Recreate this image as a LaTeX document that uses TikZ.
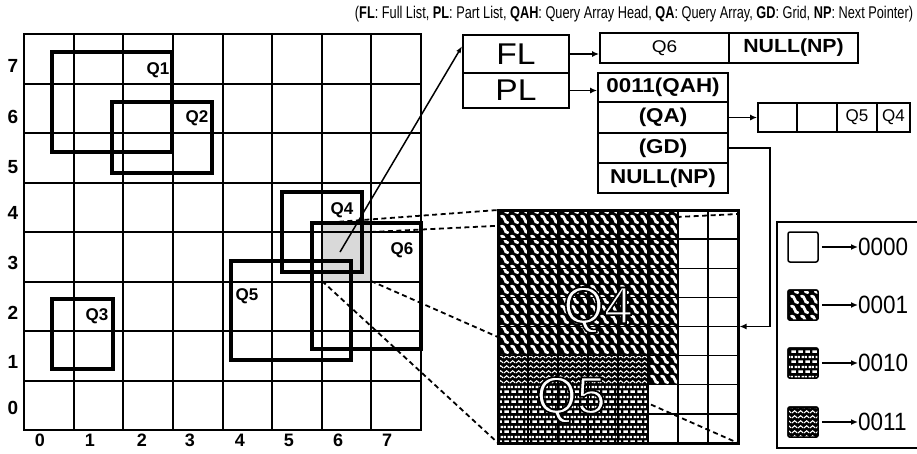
\documentclass[tikz,border=0pt]{standalone}
\usepackage{fontspec}
\setmainfont{Liberation Sans}
\newfontfamily\capfont[FakeStretch=0.75]{Liberation Sans}
\newfontfamily\widefont[FakeStretch=1.12]{Liberation Sans}
\newfontfamily\tallfont[FakeStretch=0.9]{Liberation Sans}
\usetikzlibrary{patterns.meta,arrows.meta,calc}

\tikzdeclarepattern{
  name=pwavy, type=uncolored,
  bounding box={(0pt,0pt) and (10pt,10pt)},
  tile size={(10pt,10pt)},
  code={\draw[line width=3pt,line cap=round] (1.5pt,8.5pt) .. controls (5.5pt,9.5pt) and (4.5pt,0.5pt) .. (8.5pt,1.5pt);}
}
\tikzdeclarepattern{
  name=pzig, type=uncolored,
  bounding box={(0pt,0pt) and (6pt,5pt)},
  tile size={(6pt,5pt)},
  code={\draw[line width=1.2pt] (0pt,1.2pt) -- (3pt,3.8pt) -- (6pt,1.2pt);}
}
\tikzdeclarepattern{
  name=pbrick, type=uncolored,
  bounding box={(0pt,0pt) and (7pt,10pt)},
  tile size={(7pt,10pt)},
  code={\draw[line width=2.6pt] (0.5pt,2.5pt) -- (5.5pt,2.5pt) (4pt,7.5pt) -- (7pt,7.5pt) (0pt,7.5pt) -- (2pt,7.5pt);}
}
\newcommand{\outlined}[1]{\special{pdf:literal direct 2 Tr 1.6 w 0 G}#1\special{pdf:literal direct 0 Tr}}

\begin{document}
\begin{tikzpicture}[x=1pt,y=-1pt,
  gline/.style={line width=2pt},
  qrect/.style={line width=3.2pt},
  qlab/.style={font=\bfseries\fontsize{17}{17}\selectfont, inner sep=0pt},
  rowlab/.style={font=\bfseries\fontsize{19}{19}\selectfont, inner sep=0pt},
  box/.style={draw, line width=1.8pt, inner sep=0pt},
  arr/.style={line width=1.5pt, -{Latex[length=7pt,width=6pt]}},
  zoomline/.style={line width=1.8pt, dash pattern=on 5pt off 3.5pt},
  pat/.style={fill=black, postaction={pattern=#1, pattern color=white}},
  bigq/.style={font=\fontsize{52}{52}\selectfont, inner sep=0pt, text=white},
  swatch/.style={draw, line width=1.5pt, rounded corners=2pt, minimum size=30pt, inner sep=0pt},
  leglab/.style={font=\tallfont\fontsize{25}{25}\selectfont, inner sep=0pt, anchor=west}
]
\useasboundingbox (0,0) rectangle (917,453);

% caption
\node[font=\capfont\fontsize{17}{17}\selectfont, inner sep=0pt] (cap) at (634,14)
  {(\textbf{FL}: Full List, \textbf{PL}: Part List, \textbf{QAH}: Query Array Head, \textbf{QA}: Query Array, \textbf{GD}: Grid, \textbf{NP}: Next Pointer)};

% ---------- left grid ----------
\fill[gray!30] (322,223) rectangle (371,281);
\foreach \i in {1,...,7} {
  \draw[gline] (24+49.625*\i,34) -- (24+49.625*\i,430);
  \draw[gline] (24,34+49.5*\i) -- (421,34+49.5*\i);
}
\draw[line width=2.6pt] (24,34) rectangle (421,430);

\foreach \t/\yy in {7/66,6/117,5/167,4/213,3/263,2/313,1/362,0/408}
  \node[rowlab] (row\t) at (13,\yy) {\t};
\foreach \t/\xx in {0/40,1/90,2/142,3/190,4/240,5/289,6/338,7/387}
  \node[rowlab, font=\bfseries\fontsize{18}{18}\selectfont] (col\t) at (\xx,440) {\t};

% query rectangles
\draw[qrect] (52,52) rectangle (172,152);
\draw[qrect] (112,102) rectangle (212,173);
\draw[qrect] (52,299) rectangle (113,369);
\draw[qrect] (282,192) rectangle (362,272);
\draw[qrect] (231,261) rectangle (351,360);
\draw[qrect] (312,223) rectangle (421,349);
\node[qlab] (lq1) at (158,70) {Q1};
\node[qlab] (lq2) at (197,118) {Q2};
\node[qlab] (lq3) at (97,316) {Q3};
\node[qlab] (lq4) at (342,210) {Q4};
\node[qlab] (lq5) at (247,296) {Q5};
\node[qlab] (lq6) at (402,250) {Q6};

% ---------- list structures ----------
\node[box, minimum width=106pt, minimum height=38pt, font=\widefont\fontsize{30}{30}\selectfont] (FL) at (516,54) {FL};
\node[box, minimum width=106pt, minimum height=35pt, font=\widefont\fontsize{30}{30}\selectfont] (PL) at (516,90.5) {PL};

\node[box, minimum width=129pt, minimum height=30pt, font=\widefont\fontsize{17}{17}\selectfont] (Q6box) at (664.5,48) {Q6};
\node[box, minimum width=129pt, minimum height=30pt, font=\widefont\bfseries\fontsize{19}{19}\selectfont] (NPfl) at (793.5,48) {NULL(NP)};

\node[box, minimum width=130pt, minimum height=29pt, font=\widefont\bfseries\fontsize{20}{20}\selectfont] (QAH) at (663,87.5) {0011(QAH)};
\node[box, minimum width=130pt, minimum height=31pt, font=\widefont\bfseries\fontsize{20}{20}\selectfont] (QA) at (663,117.5) {(QA)};
\node[box, minimum width=130pt, minimum height=30pt, font=\widefont\bfseries\fontsize{20}{20}\selectfont] (GD) at (663,148) {(GD)};
\node[box, minimum width=130pt, minimum height=30pt, font=\widefont\bfseries\fontsize{20}{20}\selectfont] (NPpl) at (663,178) {NULL(NP)};

\node[box, minimum width=39pt, minimum height=29pt] (c1) at (777.5,117.5) {};
\node[box, minimum width=40pt, minimum height=29pt] (c2) at (817,117.5) {};
\node[box, minimum width=40pt, minimum height=29pt, font=\fontsize{17}{17}\selectfont] (c3) at (857,117.5) {Q5};
\node[box, minimum width=33pt, minimum height=29pt, font=\fontsize{17}{17}\selectfont] (c4) at (893.5,117.5) {Q4};

\draw[arr] (FL.east) -- (FL.east -| Q6box.west);
\draw[arr] (PL.east) -- (PL.east -| QAH.west);
\draw[arr] (QA.east) -- (QA.east -| c1.west);

\coordinate (shc) at (340,252);
\draw[line width=1.5pt, -{Latex[length=7pt,width=5pt]}] (shc) -- ($(FL.north west)!0.3!(FL.south west)$);

% ---------- zoom projection lines ----------
\coordinate (pa1) at (322,223);
\coordinate (pa2) at (498,210);
\coordinate (pb1) at (371,232);
\coordinate (pb2) at (738,214);
\coordinate (pc1) at (322,281);
\coordinate (pc2) at (498,443);
\coordinate (pd1) at (371,281);
\coordinate (pd2) at (738,443);
\draw[zoomline] (pa1) -- (pa2);
\draw[zoomline] (pb1) -- (pb2);
\draw[zoomline] (pc1) -- (pc2);
\draw[zoomline] (pd1) -- (pd2);

% ---------- zoomed grid ----------
\foreach \r in {0,...,4} \foreach \c in {0,...,5}
  \path[pat=pwavy] (498+30*\c,210+29.125*\r) rectangle ++(30,29.125);
\foreach \c in {0,...,4}
  \path[pat=pzig] (498+30*\c,210+29.125*5) rectangle ++(30,29.125);
\path[pat=pwavy] (498+30*5,210+29.125*5) rectangle ++(30,29.125);
\foreach \r in {6,7} \foreach \c in {0,...,4}
  \path[pat=pbrick] (498+30*\c,210+29.125*\r) rectangle ++(30,29.125);

\foreach \i in {1,...,7} {
  \draw[line width=1.4pt] (498+30*\i,210) -- (498+30*\i,443);
  \draw[line width=1.4pt] (498,210+29.125*\i) -- (738,210+29.125*\i);
}

\node[bigq] (q4big) at (598,310) {\outlined{Q4}};
\node[bigq] (q5big) at (571,400) {\outlined{Q5}};

\node[draw, line width=3pt, minimum width=240pt, minimum height=233pt, inner sep=0pt] (zg) at (618,326.5) {};

\coordinate (gdturn) at (770,148);
\draw[arr] (GD.east) -- (gdturn) |- (zg.east);

% ---------- legend ----------
\draw[line width=1.5pt] (917,222) -- (777,222) -- (777,448) -- (917,448);
\node[swatch] (s1) at (803,247) {};
\node[swatch, pat=pwavy, postaction={draw}] (s2) at (803,305) {};
\node[swatch, pat=pbrick, postaction={draw}] (s3) at (803,363) {};
\node[swatch, pat=pzig, postaction={draw}] (s4) at (803,422) {};
\node[leglab] (t1) at (858,247) {0000};
\node[leglab] (t2) at (858,305) {0001};
\node[leglab] (t3) at (858,363) {0010};
\node[leglab] (t4) at (858,422) {0011};
\foreach \i in {1,...,4}
  \draw[arr] ([xshift=3pt]s\i.east) -- (t\i.west);
\end{tikzpicture}
\end{document}
